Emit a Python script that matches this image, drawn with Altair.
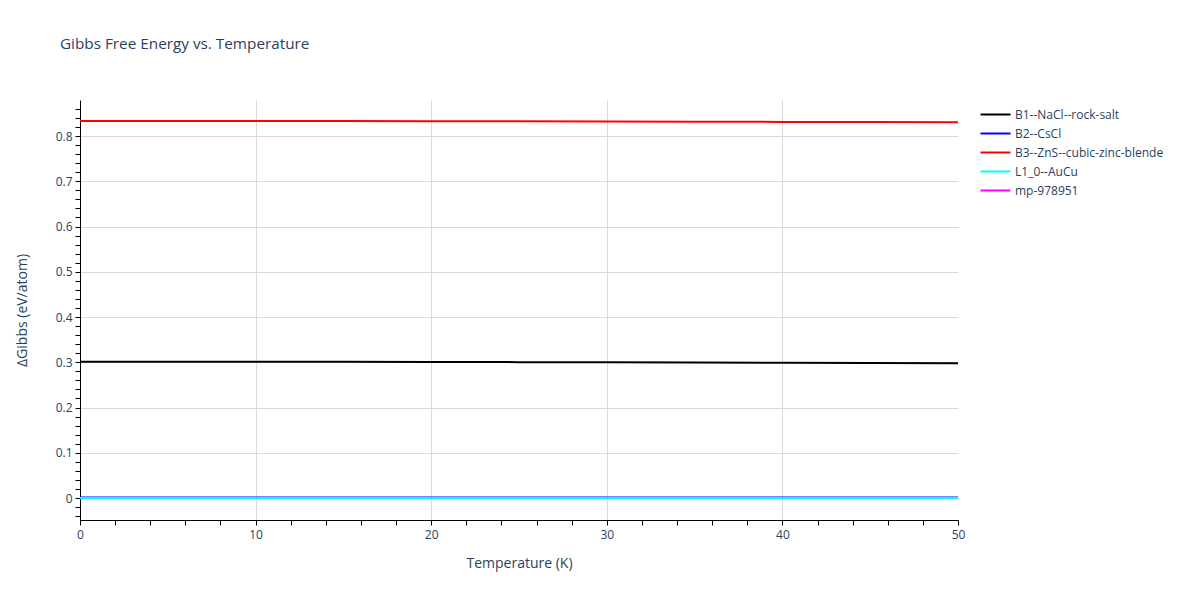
import altair as alt
import pandas as pd

temperature = [0, 5, 10, 15, 20, 25, 30, 35, 40, 45, 50]
b1_rocksalt = [0.3013, 0.3013, 0.3012, 0.3010, 0.3007, 0.3003, 0.2999, 0.2994, 0.2989, 0.2984, 0.2978]
b2_cscl = [0.0010, 0.0010, 0.0010, 0.0010, 0.0010, 0.0010, 0.0010, 0.0010, 0.0010, 0.0010, 0.0010]
b3_zincblende = [0.8333, 0.8333, 0.8332, 0.8330, 0.8327, 0.8324, 0.8320, 0.8316, 0.8312, 0.8308, 0.8303]
l10_aucu = [0.0, 0.0, 0.0, 0.0, 0.0, 0.0, 0.0, 0.0, 0.0, 0.0, 0.0]
mp_978951 = [0.0, 0.0, 0.0, 0.0, 0.0, 0.0, 0.0, 0.0, 0.0, 0.0, 0.0]

series_names = ["B1--NaCl--rock-salt", "B2--CsCl", "B3--ZnS--cubic-zinc-blende", "L1_0--AuCu", "mp-978951"]
series_colors = ["black", "blue", "red", "cyan", "magenta"]

# draw order: magenta first (hidden under the others), cyan last
draw_order = [
    ("mp-978951", mp_978951),
    ("B1--NaCl--rock-salt", b1_rocksalt),
    ("B2--CsCl", b2_cscl),
    ("B3--ZnS--cubic-zinc-blende", b3_zincblende),
    ("L1_0--AuCu", l10_aucu),
]
rows = []
for name, vals in draw_order:
    for t, v in zip(temperature, vals):
        rows.append({"T": t, "G": v, "series": name})
df = pd.DataFrame(rows)

text_color = "#2a3f5f"
font = "Open Sans"

y_vals = [round(-0.04 + 0.02 * i, 2) for i in range(46)]
x_vals = list(range(0, 51, 2))

major_y = "abs(round(datum.value*10) - datum.value*10) < 1e-6"
major_x = "abs(round(datum.value/10) - datum.value/10) < 1e-6"

chart = alt.Chart(df).mark_line(strokeWidth=2, clip=True).encode(
    x=alt.X("T:Q", title="Temperature (K)",
            scale=alt.Scale(domain=[0, 50], nice=False, zero=False),
            axis=alt.Axis(values=x_vals,
                          labelExpr=f"{major_x} ? format(datum.value, 'd') : ''",
                          gridOpacity={"condition": {"test": f"{major_x} && datum.value > 0 && datum.value < 50", "value": 1}, "value": 0},
                          tickSize=5, labelPadding=4, titlePadding=16, labelFlush=False)),
    y=alt.Y("G:Q", title="ΔGibbs (eV/atom)",
            scale=alt.Scale(domain=[-0.0486, 0.8796], nice=False, zero=False),
            axis=alt.Axis(values=y_vals,
                          labelExpr=f"{major_y} ? format(datum.value, '.1~f') : ''",
                          gridOpacity={"condition": {"test": major_y, "value": 1}, "value": 0},
                          tickSize=5, labelPadding=3, titlePadding=26, labelFlush=False)),
    color=alt.Color("series:N",
                    scale=alt.Scale(domain=series_names, range=series_colors),
                    legend=alt.Legend(title=None, orient="none", legendX=907, legendY=6,
                                      symbolType="M-2,0L2,0", symbolSize=225, symbolStrokeWidth=2,
                                      labelFontSize=12, labelColor=text_color, labelFont=font,
                                      rowPadding=4, labelOffset=11, labelLimit=300)),
).properties(
    width=878,
    height=420,
    title=alt.TitleParams("Gibbs Free Energy vs. Temperature", anchor="start", frame="group", dx=-20, offset=48,
                          fontSize=15.3, font=font, color=text_color, fontWeight="normal"),
    autosize=alt.AutoSizeParams(type="none"),
    padding={"left": 72, "top": 92, "right": 234, "bottom": 60},
).configure_axis(
    domainColor="black",
    tickColor="black",
    gridColor="#d9d9d9",
    labelFont=font,
    labelFontSize=12,
    labelColor=text_color,
    titleFont=font,
    titleFontSize=14,
    titleColor=text_color,
    titleFontWeight="normal",
).configure_view(stroke=None)

chart.save("out.html", embed_options={"renderer": "svg", "actions": False})
